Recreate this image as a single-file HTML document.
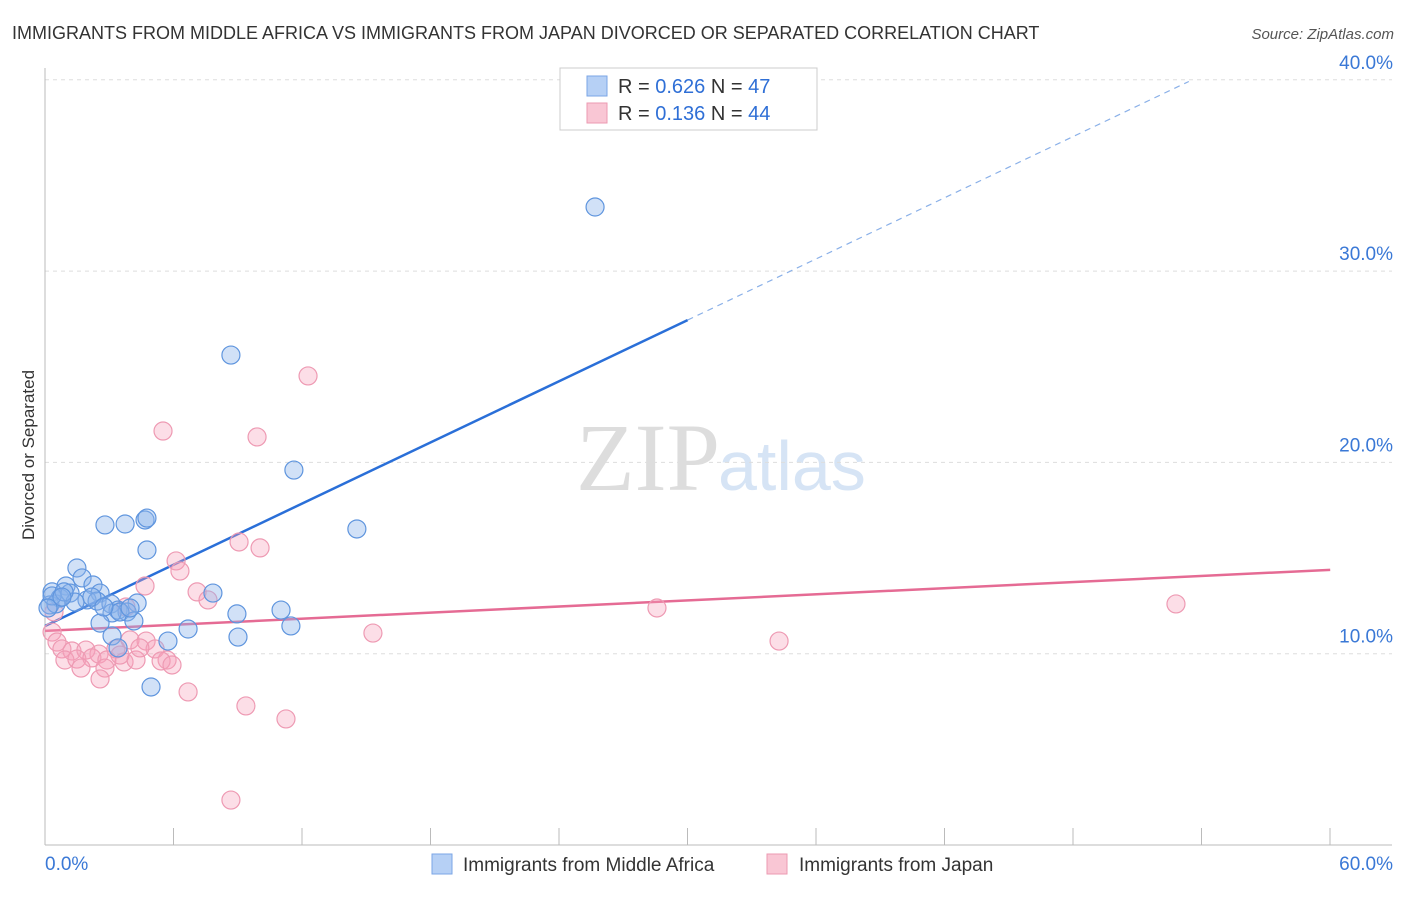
<!DOCTYPE html>
<html><head><meta charset="utf-8"><style>
body{margin:0;background:#fff;font-family:"Liberation Sans",sans-serif;}
#wrap{position:relative;width:1406px;height:892px;}
</style></head><body>
<div id="wrap">
<svg id="svg" width="1406" height="892" xmlns="http://www.w3.org/2000/svg">
<text x="12" y="39" font-size="18" fill="#333">IMMIGRANTS FROM MIDDLE AFRICA VS IMMIGRANTS FROM JAPAN DIVORCED OR SEPARATED CORRELATION CHART</text>
<text x="1394" y="39" font-size="15" fill="#555" font-style="italic" text-anchor="end">Source: ZipAtlas.com</text>
<text x="34" y="455" font-size="17" fill="#333" text-anchor="middle" transform="rotate(-90 34 455)">Divorced or Separated</text>
<text x="720" y="490" font-size="96" fill="#ddd" text-anchor="end" font-family="Liberation Serif">ZIP</text>
<text x="718" y="490" font-size="70" fill="#d6e4f5">atlas</text>
<g id="grid"></g><g id="axes"></g><g id="trend"></g><g id="pts"></g>
<g>
<rect x="560" y="68" width="257" height="62" fill="#fff" stroke="#ccc"/>
<rect x="587" y="76" width="20" height="20" fill="#b6d0f5" stroke="#7ba6e6"/>
<rect x="587" y="103" width="20" height="20" fill="#f9c6d4" stroke="#ec9ab2"/>
<text x="618" y="93" font-size="20" fill="#333">R = <tspan fill="#2f6fd6">0.626</tspan>   N = <tspan fill="#2f6fd6">47</tspan></text>
<text x="618" y="120" font-size="20" fill="#333">R =  <tspan fill="#2f6fd6">0.136</tspan>   N = <tspan fill="#2f6fd6">44</tspan></text>
</g>
<g>
<rect x="432" y="854" width="20" height="20" fill="#b6d0f5" stroke="#7ba6e6"/>
<text x="463" y="871" font-size="19" fill="#333">Immigrants from Middle Africa</text>
<rect x="767" y="854" width="20" height="20" fill="#f9c6d4" stroke="#ec9ab2"/>
<text x="799" y="871" font-size="19" fill="#333">Immigrants from Japan</text>
</g>
</svg></div>
<script>
const xTicks=[0,60];
const yTicks=[10,20,30,40];
const blueX=[25.68,8.68,11.62,14.56,2.80,3.74,4.67,4.76,4.76,1.49,1.73,2.24,0.98,0.33,0.70,1.17,2.57,7.84,1.96,2.43,1.40,0.23,0.51,3.08,4.30,3.41,3.83,3.13,3.50,8.96,11.02,2.57,4.15,11.48,6.68,3.13,5.74,9.01,3.41,4.95,0.33,0.14,0.89,2.19,2.75,3.97,0.79];
const blueY=[33.35,25.61,19.60,16.52,16.73,16.78,16.99,17.09,15.42,14.48,13.96,13.59,13.54,13.23,12.91,13.17,13.17,13.17,12.81,12.75,12.70,12.55,12.60,12.60,12.65,12.28,12.18,12.13,12.18,12.08,12.28,11.60,11.71,11.45,11.29,10.93,10.66,10.87,10.30,8.26,13.02,12.39,13.23,12.96,12.44,12.39,12.96];
const pinkX=[12.28,5.51,9.90,9.06,10.04,6.12,6.30,4.67,7.10,7.61,28.57,52.80,3.78,0.42,0.33,15.31,34.27,3.97,0.56,4.72,0.79,1.26,1.91,3.31,2.52,5.14,5.70,0.93,1.49,2.19,2.89,3.69,4.25,5.42,5.93,1.68,2.80,2.57,6.68,9.38,11.25,8.68,3.50,4.43];
const pinkY=[24.52,21.64,21.33,15.84,15.53,14.85,14.32,13.54,13.23,12.81,12.39,12.60,12.44,12.18,11.13,11.08,10.66,10.72,10.61,10.66,10.25,10.14,10.19,10.25,9.98,10.25,9.67,9.67,9.72,9.78,9.67,9.57,9.67,9.62,9.41,9.25,9.25,8.68,8.00,7.27,6.59,2.35,9.93,10.30];
const blueTrend=[11.45,0.533];
const pinkTrend=[11.19,0.0532];
const NS="http://www.w3.org/2000/svg";
const sx=v=>45+v*21.42, sy=v=>845-v*19.13;
function mk(tag,p,par){const e=document.createElementNS(NS,tag);for(const k in p)e.setAttribute(k,p[k]);document.getElementById(par).appendChild(e);return e;}
yTicks.forEach(t=>{
 const l=mk('line',{x1:45,x2:1392,y1:sy(t),y2:sy(t),stroke:'#ddd','stroke-dasharray':'4,4'},'grid');
 
 
 const tx=mk('text',{x:1393,y:sy(t)-11,'font-size':19,fill:'#3a78d6','text-anchor':'end'},'grid');tx.textContent=t.toFixed(1)+'%';
 
 
});
mk('line',{x1:45,x2:45,y1:68,y2:845,stroke:'#bbb'},'axes');
mk('line',{x1:45,x2:1392,y1:845,y2:845,stroke:'#bbb'},'axes');
for(let i=0;i<=10;i++){const x=45+i*128.5;mk('line',{x1:x,x2:x,y1:828,y2:845,stroke:'#bbb'},'axes');}
xTicks.forEach((t,i)=>{const tx=mk('text',{x:i?1393:45,y:870,'font-size':19,fill:'#3a78d6','text-anchor':i?'end':'start'},'axes');tx.textContent=t.toFixed(1)+'%';
 
 });
const b0=mk('line',{x1:sx(0),y1:sy(blueTrend[0]),x2:sx(30),y2:sy(blueTrend[0]+30*blueTrend[1]),stroke:'#2a6fd8','stroke-width':2.5},'trend');


const b1=mk('line',{x1:sx(30),y1:sy(blueTrend[0]+30*blueTrend[1]),x2:sx(53.4),y2:sy(blueTrend[0]+53.4*blueTrend[1]),stroke:'#8ab0e8','stroke-width':1.2,'stroke-dasharray':'6,5'},'trend');


const p0=mk('line',{x1:sx(0),y1:sy(pinkTrend[0]),x2:sx(60),y2:sy(pinkTrend[0]+60*pinkTrend[1]),stroke:'#e56b94','stroke-width':2.5},'trend');


pinkX.forEach((x,i)=>{const c=mk('circle',{cx:sx(x),cy:sy(pinkY[i]),r:9,fill:'rgba(245,160,185,0.35)',stroke:'#ee9ab3','stroke-width':1.2},'pts');
 
 });
blueX.forEach((x,i)=>{const c=mk('circle',{cx:sx(x),cy:sy(blueY[i]),r:9,fill:'rgba(140,180,235,0.4)',stroke:'#5f95de','stroke-width':1.2},'pts');
 
 });
</script>
</body></html>
